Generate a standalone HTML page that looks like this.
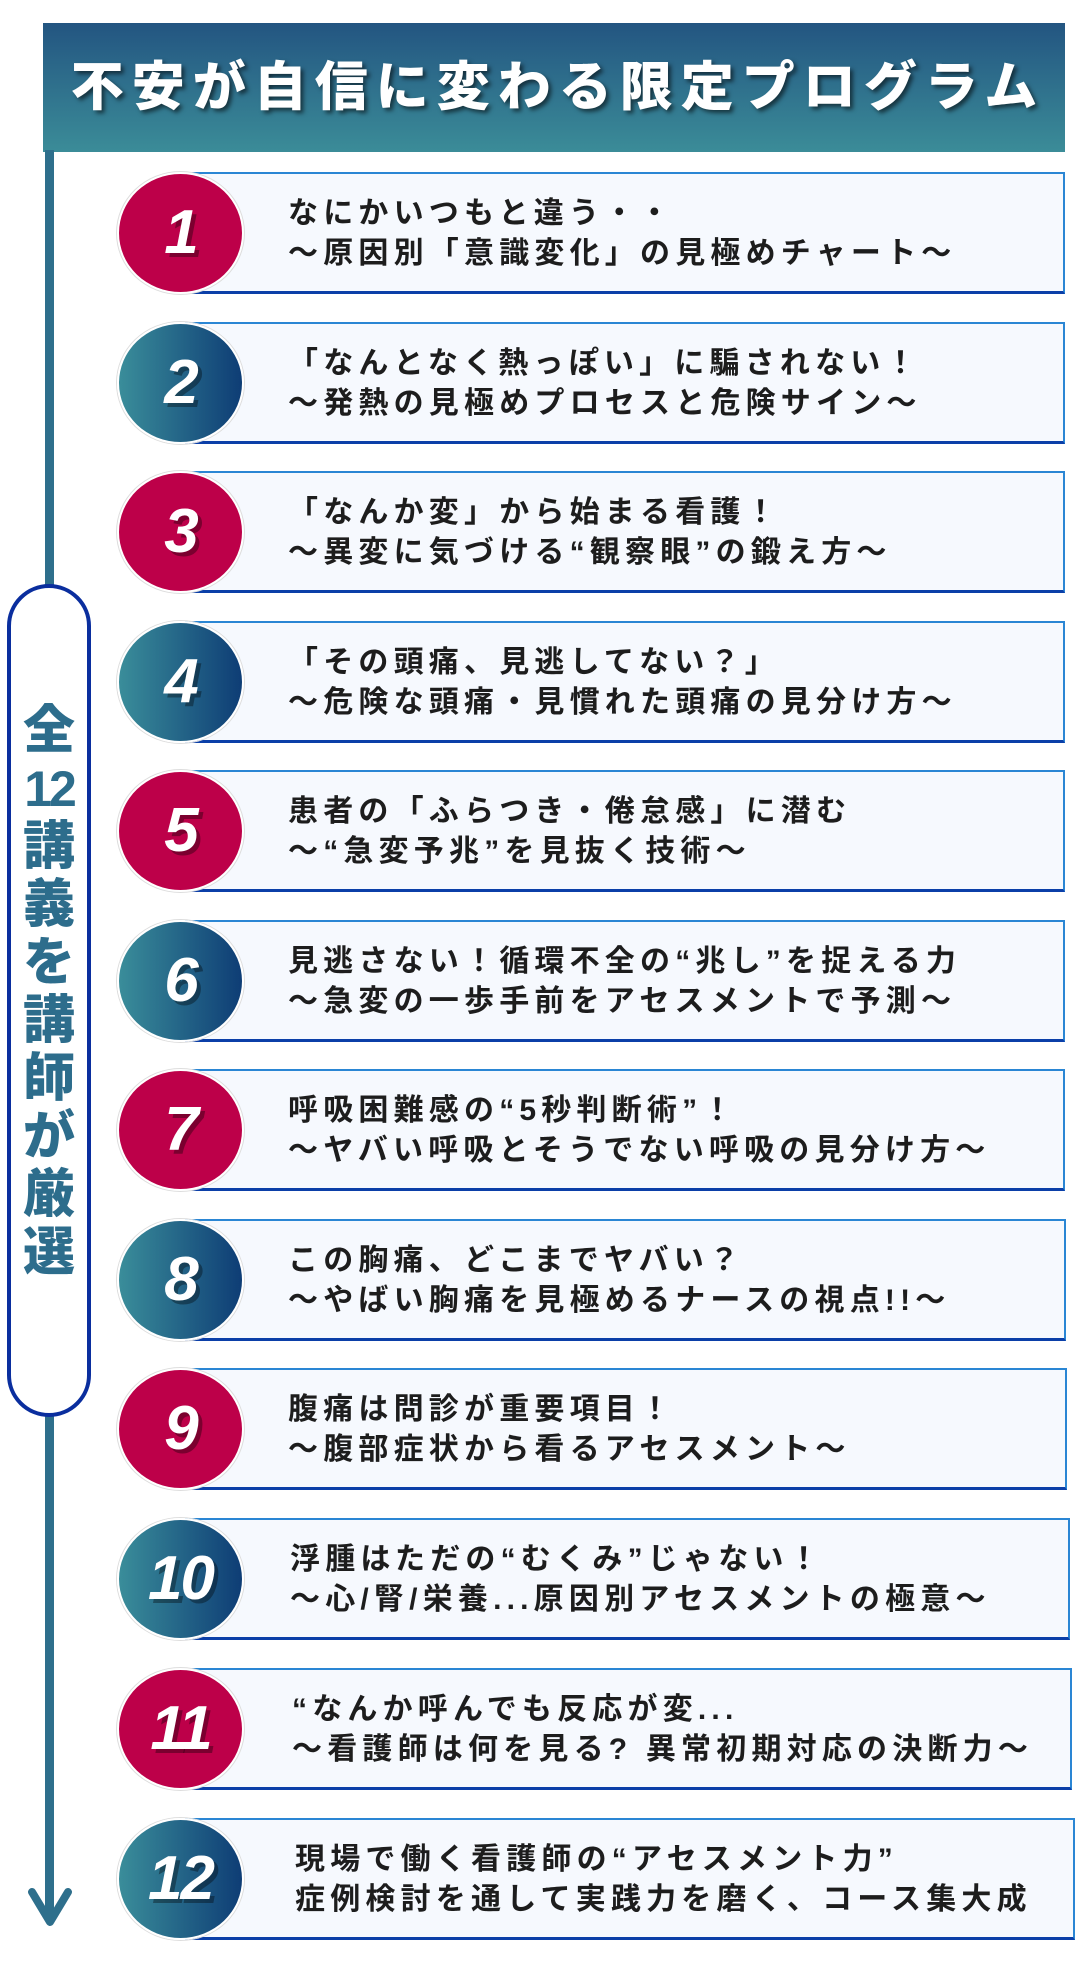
<!DOCTYPE html>
<html><head><meta charset="utf-8"><style>
*{margin:0;padding:0;box-sizing:border-box}
body{width:1080px;height:1985px;background:#fff;position:relative;overflow:hidden;font-family:"Liberation Sans","Noto Sans CJK JP",sans-serif}
.hdr{position:absolute;left:43px;top:23px;width:1022px;height:129px;background:linear-gradient(#235581,#3b8c98);}
.hdr div{position:absolute;left:0;right:0;top:30px;text-align:center;color:#fff;font-size:53px;font-weight:900;letter-spacing:8px;line-height:70px;white-space:nowrap;text-shadow:3px 3px 4px rgba(0,0,0,.55);padding-left:8px}
.vline{position:absolute;left:45px;top:150px;width:9px;height:1770px;background:#2e6f8c}
.pill{position:absolute;left:7px;top:584px;width:84px;height:833px;border:4px solid #0a2e9e;border-radius:42px;background:#fff}
.ptxt{position:absolute;left:7px;top:702px;width:84px;color:#2d6d8c;font-weight:900;font-size:52px;text-align:center}
.ptxt div{height:58px;line-height:58px}
.card{position:absolute;left:185px;height:122px;background:#f6f9fe;border:2px solid #2a86d4;border-bottom:3px solid #0b3fa8;border-left:none}
.circ{position:absolute;left:117px;width:127px;height:122px;border-radius:50%;border:2px solid #fff;box-shadow:0 0 0 1px #ddd;color:#fff;font-weight:700;font-style:italic;font-size:62px;text-align:center;line-height:118px;text-shadow:4px 4px 0 rgba(0,0,0,.35);letter-spacing:-2px}
.r{background:#bd0049}
.t{background:linear-gradient(90deg,#3a8d9a,#0e3d75)}
.tx{position:absolute;left:288px;font-size:30px;font-weight:700;color:#1d1d1d;letter-spacing:5.2px;line-height:40px;white-space:nowrap}
</style></head><body>
<div class="hdr"><div>不安が自信に変わる限定プログラム</div></div>
<div class="vline"></div>
<svg style="position:absolute;left:26px;top:1880px" width="48" height="50"><polyline points="6,12 24,42 42,12" fill="none" stroke="#2e6f8c" stroke-width="8" stroke-linecap="round" stroke-linejoin="round"/></svg>
<div class="pill"></div>
<div class="ptxt"><div>全</div><div style="font-family:'Liberation Sans',sans-serif;font-weight:700;font-size:50px;letter-spacing:-3px">12</div><div>講</div><div>義</div><div>を</div><div>講</div><div>師</div><div>が</div><div>厳</div><div>選</div></div>

<div class="card" style="top:172px;width:880px"></div><div class="circ r" style="top:172px">1</div>
<div class="tx" style="top:194px">なにかいつもと違う・・<br>〜原因別「意識変化」の見極めチャート〜</div>

<div class="card" style="top:322px;width:880px"></div><div class="circ t" style="top:322px">2</div>
<div class="tx" style="top:344px">「なんとなく熱っぽい」に騙されない！<br>〜発熱の見極めプロセスと危険サイン〜</div>

<div class="card" style="top:471px;width:880px"></div><div class="circ r" style="top:471px">3</div>
<div class="tx" style="top:493px">「なんか変」から始まる看護！<br>〜異変に気づける“観察眼”の鍛え方〜</div>

<div class="card" style="top:621px;width:880px"></div><div class="circ t" style="top:621px">4</div>
<div class="tx" style="top:643px">「その頭痛、見逃してない？」<br>〜危険な頭痛・見慣れた頭痛の見分け方〜</div>

<div class="card" style="top:770px;width:880px"></div><div class="circ r" style="top:770px">5</div>
<div class="tx" style="top:792px">患者の「ふらつき・倦怠感」に潜む<br>〜“急変予兆”を見抜く技術〜</div>

<div class="card" style="top:920px;width:880px"></div><div class="circ t" style="top:920px">6</div>
<div class="tx" style="top:942px">見逃さない！循環不全の“兆し”を捉える力<br>〜急変の一歩手前をアセスメントで予測〜</div>

<div class="card" style="top:1069px;width:880px"></div><div class="circ r" style="top:1069px">7</div>
<div class="tx" style="top:1091px">呼吸困難感の“5秒判断術”！<br>〜ヤバい呼吸とそうでない呼吸の見分け方〜</div>

<div class="card" style="top:1219px;width:881px"></div><div class="circ t" style="top:1219px">8</div>
<div class="tx" style="top:1241px">この胸痛、どこまでヤバい？<br>〜やばい胸痛を見極めるナースの視点!!〜</div>

<div class="card" style="top:1368px;width:882px"></div><div class="circ r" style="top:1368px">9</div>
<div class="tx" style="top:1390px">腹痛は問診が重要項目！<br>〜腹部症状から看るアセスメント〜</div>

<div class="card" style="top:1518px;width:885px"></div><div class="circ t" style="top:1518px">10</div>
<div class="tx" style="top:1540px;left:290px">浮腫はただの“むくみ”じゃない！<br>〜心/腎/栄養...原因別アセスメントの極意〜</div>

<div class="card" style="top:1668px;width:887px"></div><div class="circ r" style="top:1668px">11</div>
<div class="tx" style="top:1690px;left:292px">“なんか呼んでも反応が変...<br>〜看護師は何を見る? 異常初期対応の決断力〜</div>

<div class="card" style="top:1818px;width:890px"></div><div class="circ t" style="top:1818px">12</div>
<div class="tx" style="top:1840px;left:295px">現場で働く看護師の“アセスメント力”<br>症例検討を通して実践力を磨く、コース集大成</div>
</body></html>
